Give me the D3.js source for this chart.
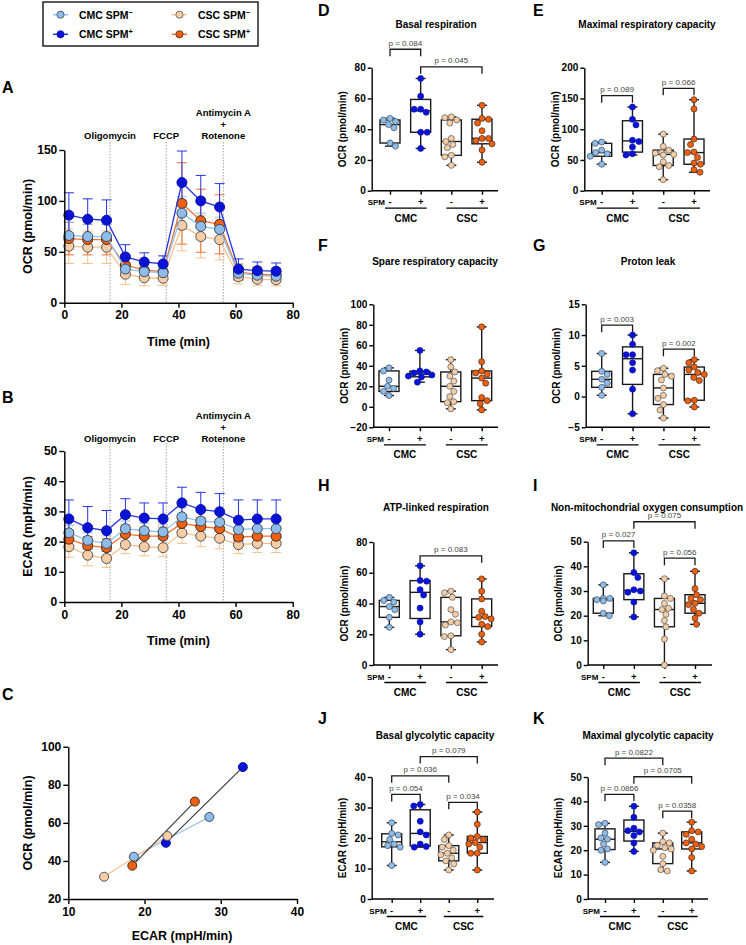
<!DOCTYPE html>
<html>
<head>
<meta charset="utf-8">
<script src="https://cdn.jsdelivr.net/npm/d3@7"></script>
<style>
  body { margin: 0; background: #fff; }
  svg text { font-family: Arial, "Liberation Sans", sans-serif; }
</style>
</head>
<body>
<svg id="fig" width="746" height="945"></svg>
<script>
// ---- groups ----
let groupNames = ['CMC SPM', 'CMC SPM', 'CSC SPM', 'CSC SPM'];
let groupSigns = ['\u2212', '+', '\u2212', '+'];
let groupKeys = ['cmcNeg', 'cmcPos', 'cscNeg', 'cscPos'];
let groupFill = ['#8fbde9', '#0a12d6', '#f6cda5', '#ee6012'];
let groupLine = ['#90c2f0', '#2433e0', '#f8c08c', '#f07030'];
let groupStroke = ['#3d4a5a', '#0a12a8', '#555555', '#4a2a1a'];

// ---- A / B: time course ----
let timeMin = [1.6, 8.2, 14.8, 21.4, 28, 34.6, 41.2, 47.8, 54.4, 61, 67.6, 74.2];
let injectionTimes = [16, 35.7, 55.7];
let injectionNames = [['Oligomycin'], ['FCCP'], ['Antimycin A', '+', 'Rotenone']];

let ocrCmcNeg = [66, 65, 65, 33, 30.5, 29.5, 88, 75, 72, 29, 27, 26];
let ocrCmcPos = [86, 82, 81, 45, 40, 38, 118, 100, 94, 33, 31.5, 31];
let ocrCscNeg = [55.5, 54.5, 54.5, 28, 24.5, 24, 76, 65, 62, 25.5, 23, 22.5];
let ocrCscPos = [63, 62, 62, 37, 32, 30.5, 97.5, 80.5, 77, 30, 28, 27];
let ocrSdCmcNeg = [13, 12, 12, 7, 6, 5, 16, 13, 12, 5, 4, 4];
let ocrSdCmcPos = [22, 20, 20, 12, 9, 8, 31, 25, 23, 10, 8.5, 8];
let ocrSdCscNeg = [17, 16, 16, 10, 8, 7, 25, 21, 20, 7, 6, 6];
let ocrSdCscPos = [16, 15, 15, 10, 8, 7, 40, 31, 29, 8, 7, 7];

let ecarCmcNeg = [22.9, 20.4, 19.4, 24.3, 23.6, 23.2, 28.2, 26.8, 26.4, 24, 24.3, 24.3];
let ecarCmcPos = [27.5, 24.6, 23.6, 28.9, 27.8, 27.5, 32.8, 30.6, 29.9, 27.1, 27.5, 27.5];
let ecarCscNeg = [18.3, 15.5, 14.4, 19, 18.3, 18, 22.9, 21.8, 21.1, 19, 19.4, 19.4];
let ecarCscPos = [20.8, 18.7, 18, 22.5, 21.8, 21.8, 26, 25, 24.3, 21.5, 21.8, 21.8];
let ecarSdCmcNeg = [2.5, 2.5, 2.5, 2.5, 2.5, 2.5, 3, 3, 3, 2.5, 2.5, 2.5];
let ecarSdCmcPos = [6.3, 7, 6.7, 5.3, 5, 5.3, 5.2, 5.7, 6, 6.7, 6.3, 6.3];
let ecarSdCscNeg = [3.5, 3.5, 3, 3, 3, 3, 3.5, 3.5, 3.5, 3, 3, 3];
let ecarSdCscPos = [3, 3, 3, 3, 3, 3, 3, 3, 3, 3, 3, 3];

// ---- C: energy phenotype (ECAR, OCR) ----
let phenoCmcNeg = [[18.6, 42.2], [28.5, 63.1]];
let phenoCmcPos = [[22.8, 49.5], [32.9, 89.3]];
let phenoCscNeg = [[14.7, 31.7], [23.0, 53.1]];
let phenoCscPos = [[18.4, 37.5], [26.6, 71.2]];

// ---- D-K: box plots (CMC-, CMC+, CSC-, CSC+) ----
let basalResp = [
  [47, 46, 45, 43, 41, 31, 29],
  [73, 61.5, 53, 53, 51, 38, 38, 27.5],
  [48, 47.5, 46, 44, 34, 32, 30, 28, 23, 22, 16.5],
  [55.5, 47, 46.5, 44, 39, 34, 34, 32.5, 30.5, 26.5, 18.5]
];
let maxResp = [
  [79, 77, 66, 62, 60, 56, 43],
  [136, 116, 107, 82, 80, 71, 60, 58],
  [92, 72, 66, 62, 61, 59, 58, 47, 41, 39, 18],
  [148, 133, 84, 75, 63, 62, 54, 45, 43, 34, 30]
];
let spareResp = [
  [38, 35, 26, 20, 18, 15, 11],
  [55, 35, 34, 33, 31, 30, 29, 24],
  [46, 39, 34, 30, 25, 20, 15, 10, 5, 4, -2],
  [78, 44, 35, 33, 32, 28, 23, 9, 6, 3, -3]
];
let protonLeak = [
  [7, 4.1, 3.6, 2.8, 2.2, 1.5, 0.2],
  [10, 8.5, 6.8, 6.8, 5.5, 4.3, 1.2, -2.8],
  [4.6, 4.2, 3.6, 3.3, 2.7, 1.4, 0.2, -0.3, -1.3, -2.2, -3.5],
  [6, 5.5, 4.8, 4.3, 3.9, 3.6, 3.1, 2.6, -0.6, -0.7, -1.7]
];
let atpResp = [
  [44, 42, 41, 38, 36, 31, 24.5],
  [64.5, 55, 54.5, 49, 45.5, 37, 28, 20],
  [48, 47, 44, 36, 33, 28, 27.5, 26, 19, 18.5, 10],
  [56, 48, 43, 35, 31.5, 31, 30, 26.5, 25, 20, 15]
];
let nonMito = [
  [32.5, 27, 27, 26.5, 26, 21, 20],
  [45.5, 37.5, 35.5, 30.5, 30, 29.5, 25.5, 19.5],
  [35, 28, 27, 25, 23, 22.5, 20.5, 18, 15.5, 10.5, 0],
  [38, 31, 28.5, 27, 26.5, 25, 24.5, 22.5, 21, 19, 16.5]
];
let basalGly = [
  [25, 21.5, 21, 19.5, 18, 17.5, 17, 11],
  [31, 30.5, 25.5, 22, 21, 18, 17.2, 17],
  [21, 19.5, 17.5, 17, 16, 15, 14.5, 13.5, 12.5, 11.5, 9.5],
  [28.5, 24.5, 20.5, 20, 19.5, 18.5, 18, 17, 15, 15, 9.5]
];
let maxGly = [
  [31, 30.5, 27, 25, 24.5, 22.5, 20.5, 20, 15],
  [38, 33.5, 29, 28, 27.5, 26, 23, 19.5],
  [27, 23.5, 23, 22, 21, 20.5, 20, 17.5, 14.5, 12, 11.5],
  [31.5, 28, 27.5, 26.5, 24.5, 23, 22.5, 21.5, 20.5, 17, 11.5]
];

// p-value brackets: [from group, to group, height (data units), label]
let basalRespP = [[0, 1, 92, 'p = 0.084'], [1, 3, 80.6, 'p = 0.045']];
let maxRespP = [[0, 1, 154.5, 'p = 0.089'], [2, 3, 166.5, 'p = 0.066']];
let spareRespP = [];
let protonLeakP = [[0, 1, 11.6, 'p = 0.003'], [2, 3, 7.7, 'p = 0.002']];
let atpRespP = [[1, 3, 71, 'p = 0.083']];
let nonMitoP = [[0, 1, 50.3, 'p = 0.027'], [1, 3, 58.1, 'p = 0.075'], [2, 3, 43.3, 'p = 0.056']];
let basalGlyP = [[0, 1, 34.3, 'p = 0.054'], [0, 2, 40.4, 'p = 0.036'], [1, 3, 46.7, 'p = 0.079'], [2, 3, 31.7, 'p = 0.034']];
let maxGlyP = [[0, 1, 42.9, 'p = 0.0866'], [0, 2, 57.7, 'p = 0.0822'], [1, 3, 50.1, 'p = 0.0705'], [2, 3, 36, 'p = 0.0358']];

let svg = d3.select('#fig');
svg.append('rect').attr('width', 746).attr('height', 945).attr('fill', '#fff');

/**
 * Bold text helper
 */
function label(g, x, y, txt, size, anchor) {
  return g.append('text')
    .attr('x', x)
    .attr('y', y)
    .attr('text-anchor', anchor || 'start')
    .attr('font-weight', 'bold')
    .attr('font-size', size)
    .attr('fill', '#000')
    .text(txt);
}

/**
 * Prism-like axis look
 */
function styleAxis(g, size) {
  g.attr('font-family', 'Arial, "Liberation Sans", sans-serif')
    .attr('font-size', size)
    .attr('font-weight', 'bold');
  g.selectAll('path.domain').attr('stroke', '#000').attr('stroke-width', 1.4);
  g.selectAll('.tick line').attr('stroke', '#000').attr('stroke-width', 1.4);
  g.selectAll('.tick text').attr('fill', '#000');
}

function yTitle(g, x, yMid, txt, size) {
  g.append('text')
    .attr('transform', 'translate(' + x + ',' + yMid + ') rotate(-90)')
    .attr('text-anchor', 'middle')
    .attr('dy', '0.35em')
    .attr('font-weight', 'bold')
    .attr('font-size', size)
    .text(txt);
}

// ---- Legend ----
let legend = svg.append('g');
legend.append('rect')
  .attr('x', 43).attr('y', 2).attr('width', 215).attr('height', 44)
  .attr('fill', 'none').attr('stroke', '#222').attr('stroke-width', 1.5);
let legendX = [53, 53, 172, 172];
let legendY = [14.7, 34.3, 14.7, 34.3];
groupKeys.forEach((k, i) => {
  let lg = legend.append('g');
  lg.append('line')
    .attr('x1', legendX[i]).attr('x2', legendX[i] + 15)
    .attr('y1', legendY[i]).attr('y2', legendY[i])
    .attr('stroke', groupLine[i]).attr('stroke-width', 1.5);
  lg.append('circle')
    .attr('cx', legendX[i] + 7.5).attr('cy', legendY[i]).attr('r', 3.6)
    .attr('fill', groupFill[i]).attr('stroke', groupStroke[i]).attr('stroke-width', 0.8);
  let t = label(lg, legendX[i] + 26, legendY[i] + 3.8, groupNames[i], 10.5);
  t.append('tspan').attr('dy', -4).attr('font-size', 7.5).text(groupSigns[i]);
});

// ---- A & B time courses ----
let timeX = d3.scaleLinear().domain([0, 80]).range([64.3, 292.7]);

function drawTimeCourse(cfg) {
  let g = svg.append('g');
  let y = d3.scaleLinear().domain(cfg.domain).range([cfg.yBottom, cfg.yTop]);

  label(g, 2, cfg.letterY, cfg.letter, 16);

  injectionTimes.forEach((t, i) => {
    g.append('line')
      .attr('x1', timeX(t)).attr('x2', timeX(t))
      .attr('y1', cfg.yTop - 8).attr('y2', cfg.yBottom)
      .attr('stroke', '#a0a0a0').attr('stroke-width', 1)
      .attr('stroke-dasharray', '1.5,1.5');
    let names = injectionNames[i];
    names.forEach((n, j) => {
      label(g, timeX(t), cfg.yTop - cfg.labelGap - (names.length - 1 - j) * 11.3, n, 9.5, 'middle');
    });
  });

  let line = d3.line()
    .x((d, i) => timeX(timeMin[i]))
    .y(d => y(d));

  cfg.series.forEach(s => {
    let eg = g.append('g').attr('stroke', groupLine[s.idx]).attr('stroke-width', 1);
    s.mean.forEach((m, i) => {
      let cx = timeX(timeMin[i]);
      let lo = y(m - s.sd[i]);
      let hi = y(m + s.sd[i]);
      eg.append('line').attr('x1', cx).attr('x2', cx).attr('y1', lo).attr('y2', hi);
      eg.append('line').attr('x1', cx - 5).attr('x2', cx + 5).attr('y1', lo).attr('y2', lo);
      eg.append('line').attr('x1', cx - 5).attr('x2', cx + 5).attr('y1', hi).attr('y2', hi);
    });
  });

  cfg.series.forEach(s => {
    g.append('path')
      .datum(s.mean)
      .attr('d', line)
      .attr('fill', 'none')
      .attr('stroke', groupLine[s.idx])
      .attr('stroke-width', 1.3);
    g.selectAll(null)
      .data(s.mean)
      .enter()
      .append('circle')
      .attr('cx', (d, i) => timeX(timeMin[i]))
      .attr('cy', d => y(d))
      .attr('r', 5)
      .attr('fill', groupFill[s.idx])
      .attr('stroke', groupStroke[s.idx])
      .attr('stroke-width', 1);
  });

  let xAxis = g.append('g')
    .attr('transform', 'translate(0,' + cfg.yBottom + ')')
    .call(d3.axisBottom(timeX).tickValues([0, 20, 40, 60, 80]).tickSize(5).tickSizeOuter(0).tickPadding(3));
  styleAxis(xAxis, 12);

  let yAxis = g.append('g')
    .attr('transform', 'translate(' + timeX(0) + ',0)')
    .call(d3.axisLeft(y).tickValues(cfg.ticks).tickSize(5).tickSizeOuter(0).tickPadding(2));
  styleAxis(yAxis, 12);

  label(g, (timeX(0) + timeX(80)) / 2, cfg.yBottom + 43, 'Time (min)', 12.5, 'middle');
  yTitle(g, 28, (cfg.yTop + cfg.yBottom) / 2, cfg.yTitle, 12.5);
}

let seriesOrder = [2, 3, 0, 1];
let ocrSeries = [
  { idx: 0, mean: ocrCmcNeg, sd: ocrSdCmcNeg },
  { idx: 1, mean: ocrCmcPos, sd: ocrSdCmcPos },
  { idx: 2, mean: ocrCscNeg, sd: ocrSdCscNeg },
  { idx: 3, mean: ocrCscPos, sd: ocrSdCscPos }
];
let ecarSeries = [
  { idx: 0, mean: ecarCmcNeg, sd: ecarSdCmcNeg },
  { idx: 1, mean: ecarCmcPos, sd: ecarSdCmcPos },
  { idx: 2, mean: ecarCscNeg, sd: ecarSdCscNeg },
  { idx: 3, mean: ecarCscPos, sd: ecarSdCscPos }
];

drawTimeCourse({
  letter: 'A', letterY: 93,
  domain: [0, 150], yTop: 150, yBottom: 302.7, ticks: [0, 50, 100, 150],
  labelGap: 11, yTitle: 'OCR (pmol/min)',
  series: seriesOrder.map(i => ocrSeries[i])
});

drawTimeCourse({
  letter: 'B', letterY: 403,
  domain: [0, 50], yTop: 451, yBottom: 602, ticks: [0, 10, 20, 30, 40, 50],
  labelGap: 9, yTitle: 'ECAR (mpH/min)',
  series: seriesOrder.map(i => ecarSeries[i])
});

// ---- C: phenotype ----
(function () {
  let g = svg.append('g');
  let x = d3.scaleLinear().domain([10, 40]).range([68.3, 297]);
  let y = d3.scaleLinear().domain([20, 100]).range([899, 746.7]);
  label(g, 2, 700, 'C', 16);

  let pairs = [phenoCmcNeg, phenoCmcPos, phenoCscNeg, phenoCscPos];
  let pairLine = [groupLine[0], '#333', groupLine[2], '#333'];
  let line = d3.line().x(d => x(d[0])).y(d => y(d[1]));
  pairs.forEach((p, i) => {
    g.append('path').datum(p).attr('d', line)
      .attr('fill', 'none').attr('stroke', pairLine[i]).attr('stroke-width', 1.1);
  });
  pairs.forEach((p, i) => {
    g.selectAll(null).data(p).enter().append('circle')
      .attr('cx', d => x(d[0])).attr('cy', d => y(d[1])).attr('r', 4.5)
      .attr('fill', groupFill[i]).attr('stroke', groupStroke[i]).attr('stroke-width', 1);
  });

  let xAxis = g.append('g').attr('transform', 'translate(0,899)')
    .call(d3.axisBottom(x).tickValues([10, 20, 30, 40]).tickSize(5).tickSizeOuter(0).tickPadding(3));
  styleAxis(xAxis, 12);
  let yAxis = g.append('g').attr('transform', 'translate(68.3,0)')
    .call(d3.axisLeft(y).tickValues([20, 40, 60, 80, 100]).tickSize(5).tickSizeOuter(0).tickPadding(2));
  styleAxis(yAxis, 12);
  label(g, 182, 940, 'ECAR (mpH/min)', 12.5, 'middle');
  yTitle(g, 28, 823, 'OCR (pmol/min)', 12.5);
})();

// ---- box plots ----
function prismQuantile(sorted, p) {
  let n = sorted.length;
  let pos = (n + 1) * p;
  if (pos <= 1) return sorted[0];
  if (pos >= n) return sorted[n - 1];
  let lo = Math.floor(pos);
  let frac = pos - lo;
  return sorted[lo - 1] + frac * (sorted[lo] - sorted[lo - 1]);
}

// place points side by side so they do not overlap
function swarmOffsets(ys, r) {
  let placed = [];
  return ys.map((yy, k) => {
    let sign = k % 2 === 0 ? 1 : -1;
    for (let o = 0; o <= 12; o += 0.5) {
      for (let c of [sign * o, -sign * o]) {
        if (placed.every(p => (p.x - c) ** 2 + (p.y - yy) ** 2 >= (2 * r + 0.3) ** 2)) {
          placed.push({ x: c, y: yy });
          return c;
        }
      }
    }
    return 0;
  });
}

function drawBoxPanel(p) {
  let g = svg.append('g');
  let y = d3.scaleLinear().domain(p.domain).range([p.yBottom, p.yTop]);
  let x = d3.scalePoint().domain(groupKeys).range(p.cats);
  let axisY = p.yBottom;

  label(g, p.letterX, p.letterY, p.letter, 16);
  label(g, p.titleX, p.titleY, p.title, 10, 'middle');

  // y axis
  let yAxis = g.append('g').attr('transform', 'translate(' + p.ax + ',0)')
    .call(d3.axisLeft(y).tickValues(p.ticks).tickSize(4).tickSizeOuter(0).tickPadding(2));
  styleAxis(yAxis, 10);
  yTitle(g, p.ax - 29, (p.yTop + p.yBottom) / 2, p.yTitle, 10);

  // x axis
  let xAxis = g.append('g').attr('transform', 'translate(0,' + axisY + ')')
    .call(d3.axisBottom(x).tickSize(4).tickSizeOuter(0).tickFormat(() => ''));
  styleAxis(xAxis, 10);
  xAxis.select('path.domain').attr('d', 'M' + p.ax + ',0H' + p.axEnd);

  label(g, x(groupKeys[0]) - 5, axisY + 14.5, 'SPM', 8, 'end');
  groupKeys.forEach((k, i) => {
    label(g, x(k), axisY + 14.5, i % 2 === 0 ? '-' : '+', 9.5, 'middle');
  });
  [[0, 1, 'CMC'], [2, 3, 'CSC']].forEach(([a, b, name]) => {
    let x1 = x(groupKeys[a]) - 5;
    let x2 = x(groupKeys[b]) + 6;
    g.append('line').attr('x1', x1).attr('x2', x2)
      .attr('y1', axisY + 17.5).attr('y2', axisY + 17.5)
      .attr('stroke', '#000').attr('stroke-width', 1.3);
    label(g, (x1 + x2) / 2, axisY + 31, name, 10, 'middle');
  });

  // boxes
  p.data.forEach((vals, i) => {
    let s = vals.slice().sort(d3.ascending);
    let q1 = prismQuantile(s, 0.25);
    let med = prismQuantile(s, 0.5);
    let q3 = prismQuantile(s, 0.75);
    let cx = x(groupKeys[i]);
    let bw = 20;
    let bg = g.append('g').attr('stroke', '#1a1a1a').attr('stroke-width', 1.4);
    bg.append('line').attr('x1', cx).attr('x2', cx).attr('y1', y(s[0])).attr('y2', y(s[s.length - 1]));
    bg.append('rect').attr('x', cx - bw / 2).attr('width', bw)
      .attr('y', y(q3)).attr('height', y(q1) - y(q3)).attr('fill', '#fff');
    bg.append('line').attr('x1', cx - bw / 2).attr('x2', cx + bw / 2).attr('y1', y(med)).attr('y2', y(med));
    [s[0], s[s.length - 1]].forEach(v => {
      bg.append('line').attr('x1', cx - 5).attr('x2', cx + 5).attr('y1', y(v)).attr('y2', y(v));
    });

    let r = 3;
    let desc = vals.slice().sort(d3.descending);
    let offs = swarmOffsets(desc.map(v => y(v)), r);
    g.selectAll(null).data(desc).enter().append('circle')
      .attr('cx', (d, j) => cx + offs[j])
      .attr('cy', d => y(d))
      .attr('r', r)
      .attr('fill', groupFill[i])
      .attr('stroke', groupStroke[i])
      .attr('stroke-width', 0.7);
  });

  // p-value brackets
  p.brackets.forEach(([a, b, h, txt]) => {
    let x1 = x(groupKeys[a]);
    let x2 = x(groupKeys[b]);
    let by = y(h);
    g.append('path')
      .attr('d', 'M' + x1 + ',' + (by + 7) + 'V' + by + 'H' + x2 + 'V' + (by + 7))
      .attr('fill', 'none').attr('stroke', '#1a1a1a').attr('stroke-width', 1.3);
    g.append('text')
      .attr('x', (x1 + x2) / 2).attr('y', by - 3.5)
      .attr('text-anchor', 'middle').attr('font-size', 8).attr('fill', '#444')
      .text(txt);
  });
}

let ocrTitle = 'OCR (pmol/min)';
let ecarTitle = 'ECAR (mpH/min)';

drawBoxPanel({ letter: 'D', letterX: 318, letterY: 16, title: 'Basal respiration', titleX: 436, titleY: 27.5,
  data: basalResp, brackets: basalRespP, domain: [0, 80], ticks: [0, 20, 40, 60, 80],
  yBottom: 190.7, yTop: 67.7, ax: 371.7, axEnd: 498, cats: [390, 482], yTitle: ocrTitle });
drawBoxPanel({ letter: 'E', letterX: 533, letterY: 16, title: 'Maximal respiratory capacity', titleX: 647, titleY: 27.5,
  data: maxResp, brackets: maxRespP, domain: [0, 200], ticks: [0, 50, 100, 150, 200],
  yBottom: 190.7, yTop: 67.7, ax: 584.3, axEnd: 710, cats: [601.7, 694], yTitle: ocrTitle });
drawBoxPanel({ letter: 'F', letterX: 318, letterY: 251, title: 'Spare respiratory capacity', titleX: 435, titleY: 264.5,
  data: spareResp, brackets: spareRespP, domain: [-20, 100], ticks: [-20, 0, 20, 40, 60, 80, 100],
  yBottom: 427.3, yTop: 304.3, ax: 373.3, axEnd: 498, cats: [389, 481.7], yTitle: ocrTitle });
drawBoxPanel({ letter: 'G', letterX: 533, letterY: 251, title: 'Proton leak', titleX: 648, titleY: 264.5,
  data: protonLeak, brackets: protonLeakP, domain: [-5, 15], ticks: [-5, 0, 5, 10, 15],
  yBottom: 427.3, yTop: 304.3, ax: 585.7, axEnd: 710, cats: [601.7, 694.3], yTitle: ocrTitle });
drawBoxPanel({ letter: 'H', letterX: 318, letterY: 491, title: 'ATP-linked respiration', titleX: 436, titleY: 511,
  data: atpResp, brackets: atpRespP, domain: [0, 80], ticks: [0, 20, 40, 60, 80],
  yBottom: 665, yTop: 542, ax: 373.3, axEnd: 498, cats: [389.3, 481.7], yTitle: ocrTitle });
drawBoxPanel({ letter: 'I', letterX: 533, letterY: 491, title: 'Non-mitochondrial oxygen consumption', titleX: 647, titleY: 511,
  data: nonMito, brackets: nonMitoP, domain: [0, 50], ticks: [0, 10, 20, 30, 40, 50],
  yBottom: 665, yTop: 541.7, ax: 587.7, axEnd: 712, cats: [603.3, 695], yTitle: ocrTitle });
drawBoxPanel({ letter: 'J', letterX: 318, letterY: 724, title: 'Basal glycolytic capacity', titleX: 435, titleY: 738.5,
  data: basalGly, brackets: basalGlyP, domain: [0, 40], ticks: [0, 10, 20, 30, 40],
  yBottom: 899, yTop: 777, ax: 371.7, axEnd: 494, cats: [391.7, 477.3], yTitle: ecarTitle });
drawBoxPanel({ letter: 'K', letterX: 533, letterY: 724, title: 'Maximal glycolytic capacity', titleX: 648, titleY: 738.5,
  data: maxGly, brackets: maxGlyP, domain: [0, 50], ticks: [0, 10, 20, 30, 40, 50],
  yBottom: 899, yTop: 777, ax: 587.7, axEnd: 708, cats: [605, 691.7], yTitle: ecarTitle });
</script>
</body>
</html>
